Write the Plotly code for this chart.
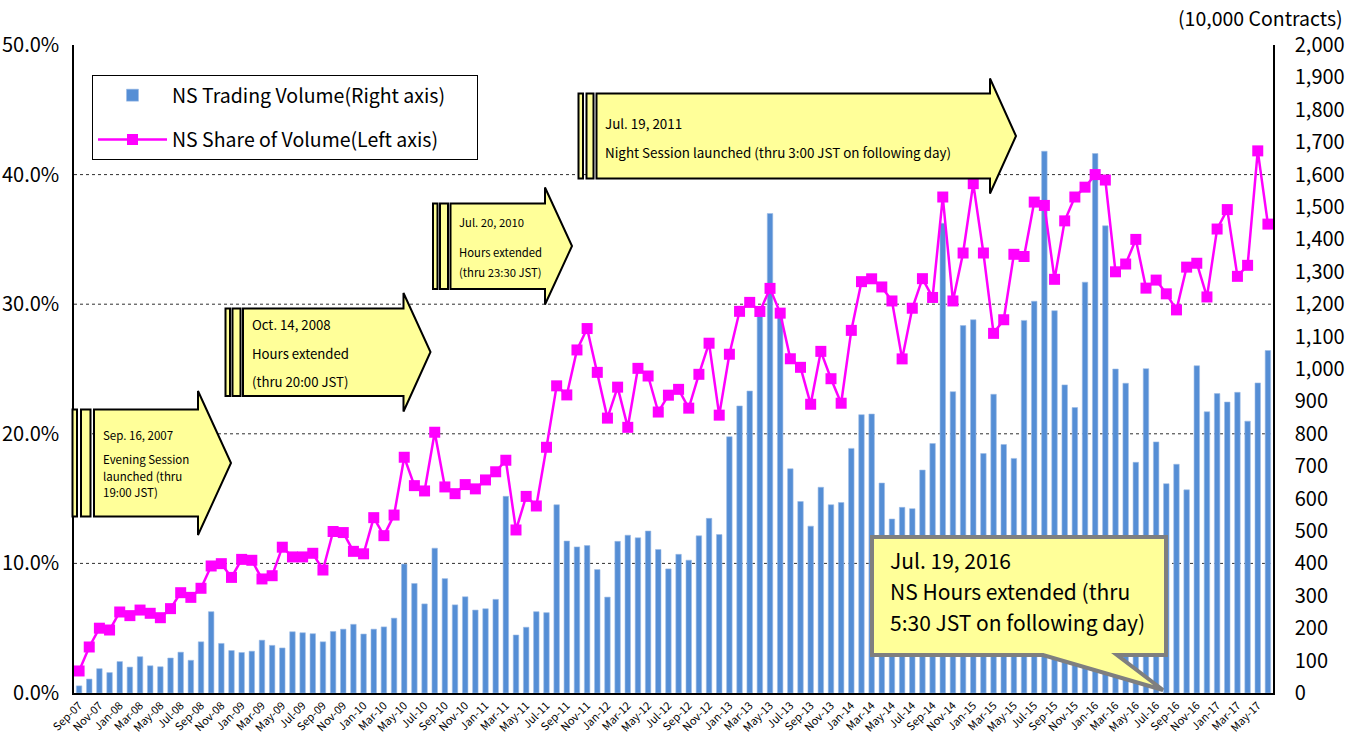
import plotly.graph_objects as go
import pandas as pd

# ---------------- data ----------------
months = list(pd.date_range("2007-09-01", periods=118, freq="MS").strftime("%b-%y"))

volume = [22, 43, 75, 63, 97, 80, 112, 84, 81, 108, 126, 101,
          158, 251, 153, 131, 125, 129, 163, 147, 139, 189, 186, 183,
          158, 190, 197, 212, 182, 197, 204, 231, 398, 338, 275, 447,
          353, 272, 297, 256, 260, 289, 607, 179, 203, 251, 248, 581,
          469, 451, 455, 381, 296, 468, 487, 479, 500, 443, 383, 428,
          410, 485, 539, 489, 791, 886, 932, 1180, 1480, 1170, 692, 591,
          515, 635, 581, 588, 755, 859, 861, 648, 537, 573, 569, 688,
          770, 1450, 930, 1134, 1152, 739, 922, 767, 724, 1150, 1209, 1672,
          1180, 951, 881, 1268, 1665, 1442, 1000, 956, 712, 1001, 775, 646,
          706, 627, 1010, 868, 924, 898, 928, 839, 957, 1057]

share = [1.7, 3.55, 5.0, 4.86, 6.25, 5.97, 6.4, 6.15, 5.81, 6.51, 7.74, 7.38,
         8.08, 9.8, 9.98, 8.92, 10.31, 10.24, 8.8, 9.05, 11.25, 10.5, 10.5, 10.78,
         9.49, 12.46, 12.38, 10.93, 10.74, 13.53, 12.14, 13.73, 18.19, 16.0, 15.59, 20.12,
         15.9, 15.38, 16.08, 15.75, 16.44, 17.07, 17.96, 12.58, 15.17, 14.43, 18.96, 23.7,
         23.0, 26.47, 28.12, 24.74, 21.21, 23.6, 20.5, 25.05, 24.46, 21.68, 22.98, 23.43,
         21.98, 24.59, 26.99, 21.44, 26.14, 29.45, 30.14, 29.44, 31.22, 29.31, 25.79, 25.13,
         22.28, 26.36, 24.25, 22.36, 27.98, 31.74, 31.96, 31.33, 30.25, 25.78, 29.69, 31.97,
         30.52, 38.27, 30.25, 33.95, 39.3, 33.95, 27.75, 28.8, 33.85, 33.68, 37.88, 37.62,
         31.92, 36.43, 38.27, 39.03, 40.0, 39.58, 32.5, 33.1, 35.0, 31.24, 31.86, 30.8,
         29.56, 32.86, 33.16, 30.56, 35.8, 37.3, 32.15, 33.0, 41.83, 36.18]

x_ticks = months[::2]
share_ticks = [0, 10, 20, 30, 40, 50]
share_ticktext = [f"{v:.1f}%" for v in share_ticks]
vol_ticks = list(range(0, 2001, 100))
vol_ticktext = [f"{v:,}" for v in vol_ticks]

events = [
    ["Sep. 16, 2007", "Evening Session", "launched (thru", "19:00 JST)"],
    ["Oct. 14, 2008", "Hours extended", "(thru 20:00 JST)"],
    ["Jul. 20, 2010", "Hours extended", "(thru 23:30 JST)"],
    ["Jul. 19, 2011", "Night Session launched (thru 3:00 JST on following day)"],
]
callout_text = ["Jul. 19, 2016", "NS Hours extended (thru", "5:30 JST on following day)"]
legend_pad = "\u00a0" * 6

# ---------------- layout geometry (pixels) ----------------
W, H = 1361, 738
L, R, T, B = 74, 1273, 45, 693
FONT = "Noto Sans CJK JP"


def P(px, py):
    return (px - L) / (R - L), (B - py) / (B - T)


def path(points):
    s = ""
    for i, (px, py) in enumerate(points):
        x, y = P(px, py)
        s += ("M" if i == 0 else "L") + f"{x:.5f},{y:.5f} "
    return s + "Z"


arrows = [
    dict(bars=[(72.5, 77), (81, 90.5)], left=94, top=409.5, bot=516.5, base=198,
         htop=391, hbot=535, tip=(231, 463), tx=101, ty=[435, 459, 476, 492], fs=11.5),
    dict(bars=[(225.5, 230), (232.5, 240.5)], left=243, top=308.5, bot=396, base=403.5,
         htop=293, hbot=411.5, tip=(430.5, 352), tx=250, ty=[324, 353, 381.5], fs=13.2),
    dict(bars=[(433, 437.5), (440, 448)], left=450.5, top=203.5, bot=289, base=545,
         htop=187.5, hbot=304.5, tip=(572, 246), tx=457, ty=[221.5, 251.5, 272], fs=11.3),
    dict(bars=[(578.5, 583), (586.5, 593.5)], left=596.5, top=93.5, bot=178.5, base=990,
         htop=78.5, hbot=193.5, tip=(1016, 136), tx=603, ty=[122.5, 151.5], fs=13.4),
]

fig = go.Figure()
fig.add_trace(go.Bar(
    x=months, y=volume, name="NS Trading Volume(Right axis)" + legend_pad,
    marker=dict(color="#558ED5", line=dict(color="#9DBCE6", width=0.6)),
    yaxis="y", legendgroup="a",
))
fig.add_trace(go.Scatter(
    x=months, y=share, name="NS Share of Volume(Left axis)" + legend_pad, mode="lines+markers",
    line=dict(color="#FF00FF", width=2.5),
    marker=dict(symbol="square", size=11, color="#FF00FF"),
    yaxis="y2", legendgroup="b",
))

shapes = []
for v in [10, 20, 30, 40]:
    shapes.append(dict(type="line", xref="paper", yref="y2", x0=0, x1=1, y0=v, y1=v,
                       line=dict(color="#303030", width=1, dash="dot"), layer="below"))

annotations = []
for a, lines in zip(arrows, events):
    for (x0, x1) in a["bars"]:
        shapes.append(dict(type="path", xref="paper", yref="paper",
                           path=path([(x0, a["top"]), (x1, a["top"]), (x1, a["bot"]), (x0, a["bot"])]),
                           fillcolor="#FFFF99", line=dict(color="black", width=2), layer="above"))
    pts = [(a["left"], a["top"]), (a["base"], a["top"]), (a["base"], a["htop"]), a["tip"],
           (a["base"], a["hbot"]), (a["base"], a["bot"]), (a["left"], a["bot"])]
    shapes.append(dict(type="path", xref="paper", yref="paper", path=path(pts),
                       fillcolor="#FFFF99", line=dict(color="black", width=2), layer="above"))
    for txt, ty in zip(lines, a["ty"]):
        x, y = P(a["tx"], ty)
        annotations.append(dict(text=txt, x=x, y=y, xref="paper", yref="paper",
                                xanchor="left", yanchor="middle", showarrow=False,
                                font=dict(family=FONT, size=a["fs"], color="black")))

# callout
cpts = [(872, 537), (1166, 537), (1166, 655), (1117, 655), (1163, 690), (1043, 655), (872, 655)]
shapes.append(dict(type="path", xref="paper", yref="paper", path=path(cpts),
                   fillcolor="#FFFF99", line=dict(color="#7F7F7F", width=4), layer="above"))
for txt, ty in zip(callout_text, [559.5, 590.5, 621.5]):
    x, y = P(888, ty)
    annotations.append(dict(text=txt, x=x, y=y, xref="paper", yref="paper",
                            xanchor="left", yanchor="middle", showarrow=False,
                            font=dict(family=FONT, size=21, color="black")))

# right axis unit
x, y = P(1345, 17)
annotations.append(dict(text="(10,000 Contracts)", x=x, y=y, xref="paper", yref="paper",
                        xanchor="right", yanchor="middle", showarrow=False,
                        font=dict(family=FONT, size=19.5, color="black")))

lx, ly = P(92, 75)
fig.update_layout(
    width=W, height=H,
    margin=dict(l=L, r=W - R, t=T, b=H - B, pad=0, autoexpand=False),
    paper_bgcolor="white", plot_bgcolor="white",
    font=dict(family=FONT, color="black"),
    bargap=0.46,
    showlegend=True,
    legend=dict(x=lx, y=ly, xanchor="left", yanchor="top",
                bgcolor="white", bordercolor="black", borderwidth=1,
                font=dict(family=FONT, size=19.5, color="black"),
                traceorder="grouped", tracegroupgap=16, itemwidth=69),
    xaxis=dict(type="category", tickmode="array", tickvals=x_ticks, ticktext=x_ticks,
               tickangle=-45, tickfont=dict(size=11, family=FONT), automargin=False,
               showline=True, linecolor="black", linewidth=1.5, showgrid=False,
               ticks="", range=[-0.5, len(months) - 0.5]),
    yaxis=dict(range=[0, 2000], side="right", tickmode="array", tickvals=vol_ticks,
               ticktext=vol_ticktext, showgrid=False, zeroline=False, automargin=False,
               showline=True, linecolor="black", linewidth=1.5,
               tickfont=dict(size=20, family=FONT), ticklabelstandoff=16),
    yaxis2=dict(range=[0, 50], side="left", overlaying="y", tickmode="array",
                tickvals=share_ticks, ticktext=share_ticktext, showgrid=False,
                zeroline=False, showline=True, linecolor="black", linewidth=1.5,
                automargin=False,
                tickfont=dict(size=20, family=FONT), ticklabelstandoff=9),
    shapes=shapes,
    annotations=annotations,
)

fig.write_html("out.html", config={"displayModeBar": False},
               post_script="document.body.style.margin='0px';")
